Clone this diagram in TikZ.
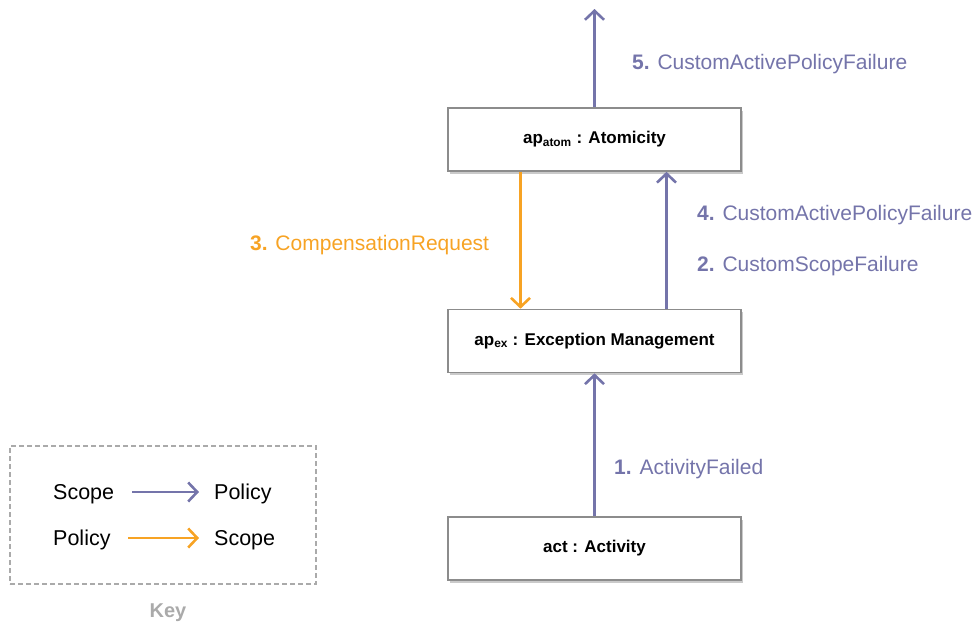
\documentclass[tikz,border=0pt]{standalone}
\usepackage{fontspec}
\setmainfont{Liberation Sans}
\usetikzlibrary{arrows.meta,shadows}
\definecolor{pur}{RGB}{116,116,170}
\definecolor{org}{RGB}{247,163,36}
\definecolor{bord}{RGB}{140,140,140}
\definecolor{keyg}{RGB}{170,170,170}
\tikzset{
  box/.style={draw=bord, line width=1.6pt, fill=white, minimum width=293pt, minimum height=63pt,
    inner sep=0pt, font=\fontsize{17}{20}\selectfont\bfseries,
    drop shadow={shadow xshift=2pt, shadow yshift=-2.5pt, opacity=0.35, fill=black!60}},
  parr/.style={draw=pur, line width=2.6pt, -{Straight Barb[length=9pt,width=19pt,line width=2.6pt]}},
  oarr/.style={draw=org, line width=2.6pt, -{Straight Barb[length=9pt,width=19pt,line width=2.6pt]}},
  plab/.style={text=pur, font=\fontsize{21}{25}\selectfont, anchor=west, inner sep=0pt},
  olab/.style={text=org, font=\fontsize{21}{25}\selectfont, anchor=west, inner sep=0pt},
  ktext/.style={font=\fontsize{21.5}{25}\selectfont, anchor=west, inner sep=0pt},
}
\begin{document}
\begin{tikzpicture}[x=1pt,y=-1pt]
\useasboundingbox (0,0) rectangle (977,624);
\node[box] (atom) at (594.5,139.5) {ap\textsubscript{atom} : Atomicity};
\node[box] (ex) at (594.5,341) {ap\textsubscript{ex} : Exception Management};
\node[box] (act) at (594.5,548.5) {act : Activity};
\coordinate (top) at (594.5,9);
\draw[parr] (atom.north) -- (top);
\draw[oarr] ([xshift=-74pt]atom.south) -- ([xshift=-74pt]ex.north);
\draw[parr] ([xshift=72pt]ex.north) -- ([xshift=72pt]atom.south);
\draw[parr] (act.north) -- (ex.south);
\node[plab] (l5) at (632,64) {\textbf{5.} CustomActivePolicyFailure};
\node[plab] (l4) at (697,215) {\textbf{4.} CustomActivePolicyFailure};
\node[plab] (l2) at (697,266) {\textbf{2.} CustomScopeFailure};
\node[olab] (l3) at (250,245) {\textbf{3.} CompensationRequest};
\node[plab] (l1) at (614,469) {\textbf{1.} ActivityFailed};
\node[draw=keyg, dash pattern=on 5pt off 3pt, line width=1.3pt, minimum width=306pt, minimum height=138pt, inner sep=0pt] (key) at (163,515) {};
\node[ktext] (s1) at (53,494) {Scope};
\node[ktext] (p1) at (214,494) {Policy};
\node[ktext] (p2) at (53,540) {Policy};
\node[ktext] (s2) at (214,540) {Scope};
\draw[parr] (132,492) -- (199,492);
\draw[oarr] (128,538) -- (199,538);
\node[text=keyg, font=\fontsize{20}{24}\selectfont\bfseries] (keyl) at (168,613) {Key};
\end{tikzpicture}
\end{document}
